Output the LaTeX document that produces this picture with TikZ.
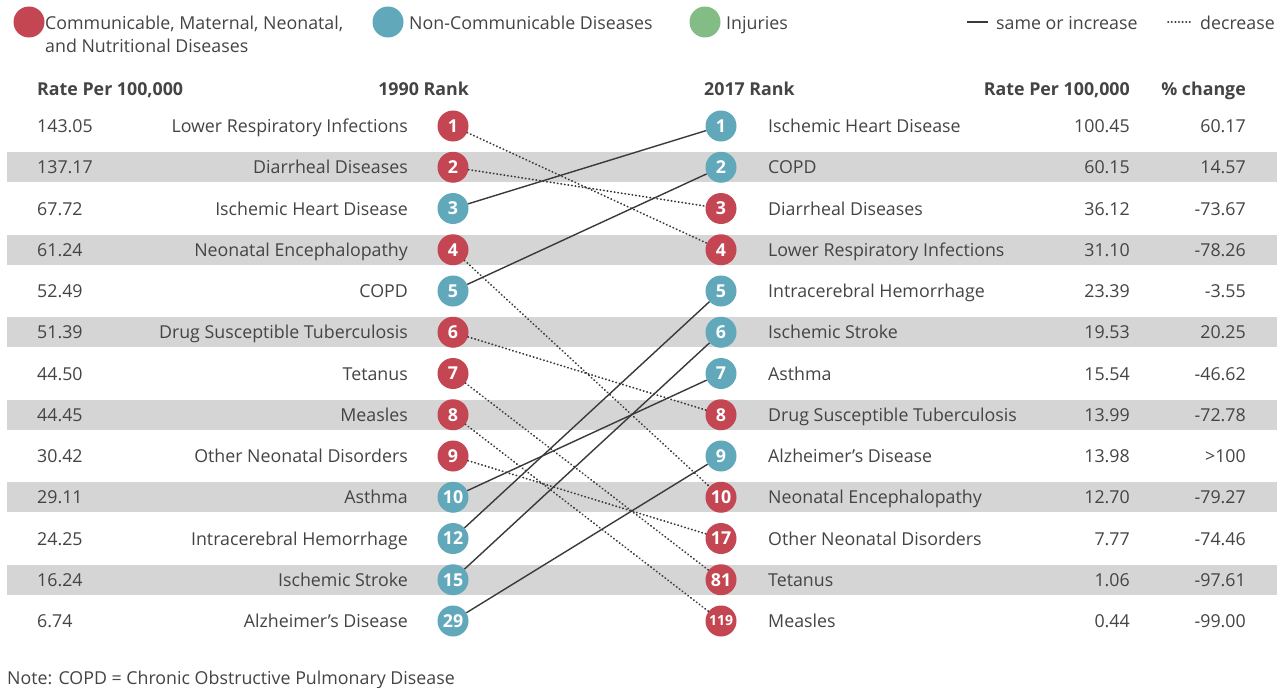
\documentclass[tikz,border=0pt]{standalone}
\usepackage{fontspec}
\setmainfont{Open Sans}
\definecolor{cmn}{HTML}{C44653}
\definecolor{ncd}{HTML}{62A8BB}
\definecolor{inj}{HTML}{84BC86}
\definecolor{txt}{HTML}{444444}
\definecolor{band}{HTML}{D5D5D5}
\definecolor{lin}{HTML}{3A3A3A}
\tikzset{
  lbl/.style={text=txt, font=\fontsize{17.8}{20}\selectfont, inner sep=0pt},
  hdr/.style={text=txt, font=\fontsize{17.8}{20}\selectfont\bfseries, inner sep=0pt},
  rk/.style={circle, minimum size=31pt, inner sep=0pt, text=white, font=\fontsize{17.8}{17}\selectfont\bfseries},
  legc/.style={circle, minimum size=31pt, inner sep=0pt},
  same/.style={draw=lin, line width=1.4pt},
  decr/.style={draw=lin, line width=1.8pt, line cap=round, dash pattern=on 0.4pt off 3.2pt},
}
\begin{document}
\begin{tikzpicture}[x=1pt,y=-1pt]
\useasboundingbox (0,0) rectangle (1286,688);
\fill[white] (0,0) rectangle (1286,688);
% legend
\node[legc, fill=cmn] (lg1) at (29,22) {};
\node[lbl, anchor=base west, align=left] (lgt1) at (45,29) {Communicable, Maternal, Neonatal,};
\node[lbl, anchor=base west] (lgt1b) at (45,52) {and Nutritional Diseases};
\node[legc, fill=ncd] (lg2) at (388,22) {};
\node[lbl, anchor=base west] (lgt2) at (409,29) {Non-Communicable Diseases};
\node[legc, fill=inj] (lg3) at (705,22) {};
\node[lbl, anchor=base west] (lgt3) at (726,29) {Injuries};
\coordinate (s1) at (967,22); \coordinate (s2) at (988,22);
\draw[same] (s1) -- (s2);
\node[lbl, anchor=base west] (lgt4) at (996,29) {same or increase};
\coordinate (d1) at (1168,22); \coordinate (d2) at (1190,22);
\draw[decr] (d1) -- (d2);
\node[lbl, anchor=base west] (lgt5) at (1200,29) {decrease};
% headers
\node[hdr, anchor=base west] (h1) at (37,95.5) {Rate Per 100,000};
\node[hdr, anchor=base east] (h2) at (469,95.5) {1990 Rank};
\node[hdr, anchor=base west] (h3) at (704,95.5) {2017 Rank};
\node[hdr, anchor=base east] (h4) at (1130,95.5) {Rate Per 100,000};
\node[hdr, anchor=base east] (h5) at (1246,95.5) {\% change};
% bands
\foreach \i in {2,4,...,12}{
  \pgfmathsetmacro{\yy}{126+(\i-1)*41.25}
  \fill[band] (7,\yy-15) rectangle (1277,\yy+15);
}
% left column
\foreach \i/\rate/\name/\rk/\cl in {
  1/143.05/Lower Respiratory Infections/1/cmn,
  2/137.17/Diarrheal Diseases/2/cmn,
  3/67.72/Ischemic Heart Disease/3/ncd,
  4/61.24/Neonatal Encephalopathy/4/cmn,
  5/52.49/COPD/5/ncd,
  6/51.39/Drug Susceptible Tuberculosis/6/cmn,
  7/44.50/Tetanus/7/cmn,
  8/44.45/Measles/8/cmn,
  9/30.42/Other Neonatal Disorders/9/cmn,
  10/29.11/Asthma/10/ncd,
  11/24.25/Intracerebral Hemorrhage/12/ncd,
  12/16.24/Ischemic Stroke/15/ncd,
  13/6.74/Alzheimer’s Disease/29/ncd}{
  \pgfmathsetmacro{\yy}{126+(\i-1)*41.25}
  \node[lbl, anchor=base west] (LR\i) at (37,\yy+6.5) {\rate};
  \node[lbl, anchor=base east] (LN\i) at (408,\yy+6.5) {\name};
  \node[rk, fill=\cl] (L\i) at (453,\yy) {\rk};
}
% right column
\foreach \j/\name/\rate/\pc/\cl/\rk in {
  1/Ischemic Heart Disease/100.45/60.17/ncd/1,
  2/COPD/60.15/14.57/ncd/2,
  3/Diarrheal Diseases/36.12/-73.67/cmn/3,
  4/Lower Respiratory Infections/31.10/-78.26/cmn/4,
  5/Intracerebral Hemorrhage/23.39/-3.55/ncd/5,
  6/Ischemic Stroke/19.53/20.25/ncd/6,
  7/Asthma/15.54/-46.62/ncd/7,
  8/Drug Susceptible Tuberculosis/13.99/-72.78/cmn/8,
  9/Alzheimer’s Disease/13.98/>100/ncd/9,
  10/Neonatal Encephalopathy/12.70/-79.27/cmn/10,
  11/Other Neonatal Disorders/7.77/-74.46/cmn/17,
  12/Tetanus/1.06/-97.61/cmn/81,
  13/Measles/0.44/-99.00/cmn/{\fontsize{14}{14}\selectfont 119}}{
  \pgfmathsetmacro{\yy}{126+(\j-1)*41.25}
  \node[rk, fill=\cl] (R\j) at (721,\yy) {\rk};
  \node[lbl, anchor=base west] (RN\j) at (768,\yy+6.5) {\name};
  \node[lbl, anchor=base east] (RR\j) at (1130,\yy+6.5) {\rate};
  \node[lbl, anchor=base east] (RP\j) at (1246,\yy+6.5) {\pc};
}
% connectors
\draw[decr] (L1) -- (R4);
\draw[decr] (L2) -- (R3);
\draw[same] (L3) -- (R1);
\draw[decr] (L4) -- (R10);
\draw[same] (L5) -- (R2);
\draw[decr] (L6) -- (R8);
\draw[decr] (L7) -- (R12);
\draw[decr] (L8) -- (R13);
\draw[decr] (L9) -- (R11);
\draw[same] (L10) -- (R7);
\draw[same] (L11) -- (R5);
\draw[same] (L12) -- (R6);
\draw[same] (L13) -- (R9);
% note
\node[lbl, anchor=base west] (note) at (7,684.5) {Note: COPD = Chronic Obstructive Pulmonary Disease};
\end{tikzpicture}
\end{document}
